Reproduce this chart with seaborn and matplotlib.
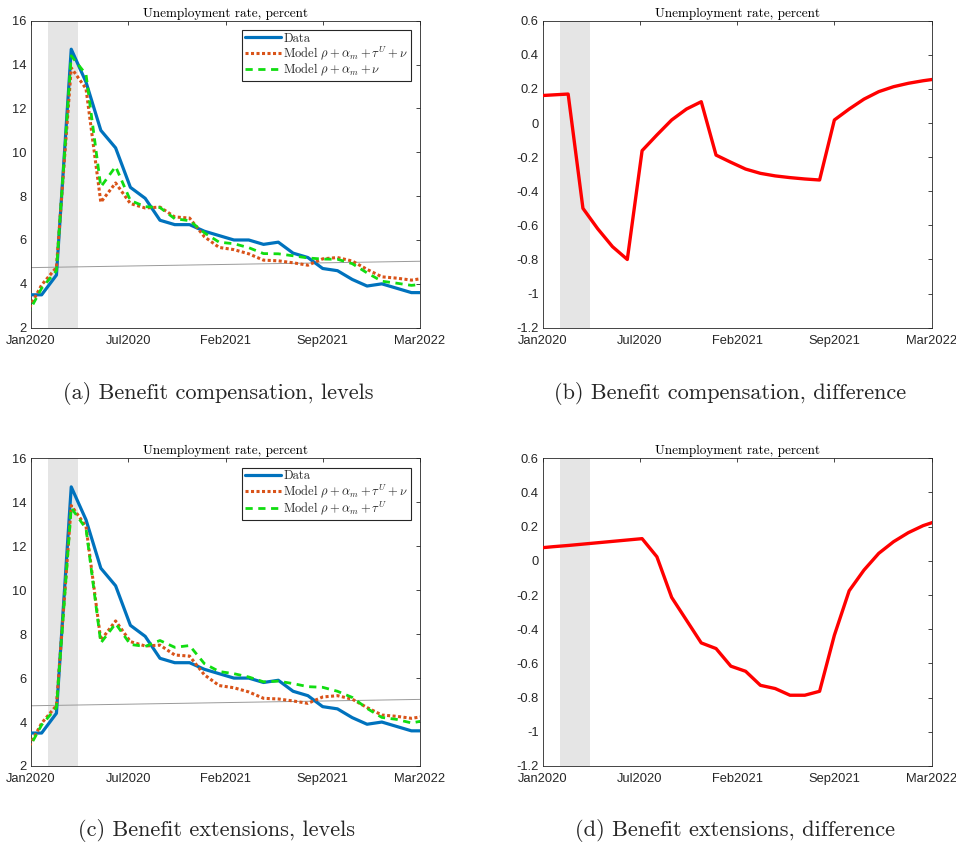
import numpy as np
import pandas as pd
import seaborn as sns
import matplotlib.pyplot as plt

# month index: 0 = Jan2020 ... 27 = Apr2022
months = list(range(28))

# unemployment rate, data
data_u = [3.5, 3.5, 4.4, 14.7, 13.2, 11.0, 10.2, 8.4, 7.9, 6.9, 6.7, 6.7, 6.4, 6.2,
          6.0, 6.0, 5.8, 5.9, 5.4, 5.2, 4.7, 4.6, 4.2, 3.9, 4.0, 3.8, 3.6, 3.6]

# model rho + alpha_m + tau^U + nu
model_full = [2.7, 3.95, 4.75, 13.85, 12.9, 7.72, 8.6, 7.66, 7.46, 7.5, 7.05, 7.0, 6.15, 5.66,
              5.56, 5.37, 5.08, 5.05, 4.96, 4.85, 5.14, 5.2, 5.04, 4.66, 4.32, 4.26, 4.17, 4.27]

# model rho + alpha_m + nu (benefit compensation)
model_comp = [2.55, 3.8, 4.6, 14.4, 13.55, 8.42, 9.35, 7.8, 7.52, 7.48, 6.97, 6.88, 6.33, 5.9,
              5.83, 5.65, 5.38, 5.37, 5.28, 5.18, 5.13, 5.12, 4.92, 4.5, 4.12, 4.03, 3.93, 4.0]

# model rho + alpha_m + tau^U (benefit extensions)
model_ext = [2.63, 3.87, 4.66, 13.75, 12.8, 7.6, 8.48, 7.53, 7.44, 7.71, 7.4, 7.48, 6.66, 6.3,
             6.2, 6.05, 5.83, 5.86, 5.75, 5.61, 5.58, 5.4, 5.12, 4.62, 4.21, 4.12, 3.96, 4.08]

# differences
diff_comp = [0.16, 0.165, 0.17, -0.50, -0.62, -0.725, -0.80, -0.162, -0.07, 0.018, 0.082, 0.125, -0.188, -0.23,
             -0.27, -0.295, -0.31, -0.32, -0.328, -0.334, 0.018, 0.082, 0.14, 0.184, 0.213, 0.233, 0.248, 0.26]
diff_ext = [0.075, 0.083, 0.09, 0.098, 0.106, 0.114, 0.122, 0.13, 0.024, -0.214, -0.347, -0.48, -0.513, -0.616,
            -0.646, -0.728, -0.747, -0.786, -0.786, -0.763, -0.435, -0.175, -0.054, 0.044, 0.112, 0.165, 0.206, 0.235]

# natural rate trend (end points)
nat_x = [0.28, 26.58]
nat_u = [4.74, 5.03]

# recession shading
shade = (1.45, 3.45)

x_lim = (0.28, 26.58)
x_labels = ["Jan2020", "Jul2020", "Feb2021", "Sep2021", "Mar2022"]
lev_ticks = [2, 4, 6, 8, 10, 12, 14, 16]
dif_ticks = [-1.2, -1, -0.8, -0.6, -0.4, -0.2, 0, 0.2, 0.4, 0.6]

captions = ["(a) Benefit compensation, levels", "(b) Benefit compensation, difference",
            "(c) Benefit extensions, levels", "(d) Benefit extensions, difference"]

sns.set_theme(style="white")
plt.rcParams["mathtext.fontset"] = "cm"
plt.rcParams["axes.unicode_minus"] = False

W, H = 956, 848
fig = plt.figure(figsize=(W / 100, H / 100), dpi=100)

def make_ax(x0, x1, y_top, y_bot):
    return fig.add_axes([x0 / W, 1 - y_bot / H, (x1 - x0) / W, (y_bot - y_top) / H])

axc = "#262626"

def style_ax(ax, yticks, ylim):
    ax.axvspan(shade[0], shade[1], color="#e5e5e5", lw=0, zorder=0)
    ax.set_xlim(x_lim)
    ax.set_ylim(ylim)
    ax.set_xticks(np.linspace(x_lim[0], x_lim[1], 5))
    ax.set_xticklabels(x_labels)
    ax.set_yticks(yticks)
    ax.set_yticklabels([f"{v:g}" for v in yticks])
    ax.tick_params(direction="in", length=3, width=0.6, top=True, right=True,
                   colors=axc, labelsize=9.3)
    ax.tick_params(axis="x", pad=5)
    ax.tick_params(axis="y", pad=3)
    for lab in ax.get_xticklabels() + ax.get_yticklabels():
        lab.set_fontfamily("Liberation Sans")
    for s in ax.spines.values():
        s.set_color(axc)
        s.set_linewidth(0.6)
    ax.set_xlabel("")
    ax.set_ylabel("")
    ax.set_title("Unemployment rate, percent", fontfamily="cmr10", fontsize=9.5, pad=3, color="black")

level_axes = [make_ax(31, 420, 20.7, 327.7), make_ax(31, 420, 458.3, 766)]
diff_axes = [make_ax(542.7, 931.7, 20.7, 327.7), make_ax(542.7, 931.7, 458.3, 766)]

alt_models = [model_comp, model_ext]
alt_labels = [r"Model $\rho+\alpha_m+\nu$", r"Model $\rho+\alpha_m+\tau^U$"]
diffs = [diff_comp, diff_ext]

for i in range(2):
    ax = level_axes[i]
    ax.plot(nat_x, nat_u, color="#9a9a9a", lw=0.7, zorder=1)
    sns.lineplot(x=months, y=data_u, ax=ax, color="#0072BD", lw=2.3, label="Data", zorder=3)
    sns.lineplot(x=months, y=model_full, ax=ax, color="#D95319", lw=2.2,
                 linestyle=(0, (1, 0.8)), label=r"Model $\rho+\alpha_m+\tau^U+\nu$", zorder=4)
    sns.lineplot(x=months, y=alt_models[i], ax=ax, color="#11dd11", lw=2.0,
                 linestyle=(0, (2.6, 2.0)), label=alt_labels[i], zorder=5)
    style_ax(ax, lev_ticks, (2, 16))
    leg = ax.legend(loc="upper right", bbox_to_anchor=(0.976, 0.97), borderaxespad=0,
                    prop={"family": "cmr10", "size": 9}, frameon=True, fancybox=False,
                    framealpha=1, edgecolor=axc, handlelength=2.9, handletextpad=0.2,
                    labelspacing=0.0, borderpad=0.2)
    leg.get_frame().set_linewidth(0.8)

    ax = diff_axes[i]
    sns.lineplot(x=months, y=diffs[i], ax=ax, color="#ff0000", lw=2.4, zorder=3)
    style_ax(ax, dif_ticks, (-1.2, 0.6))

cap_pos = [(218, 394), (730, 394), (216, 831), (735, 831)]
for (cx, cy), txt in zip(cap_pos, captions):
    fig.text(cx / W, 1 - cy / H, txt, ha="center", va="center", fontfamily="cmr10", fontsize=16)

fig.savefig("out.png", dpi=100)
